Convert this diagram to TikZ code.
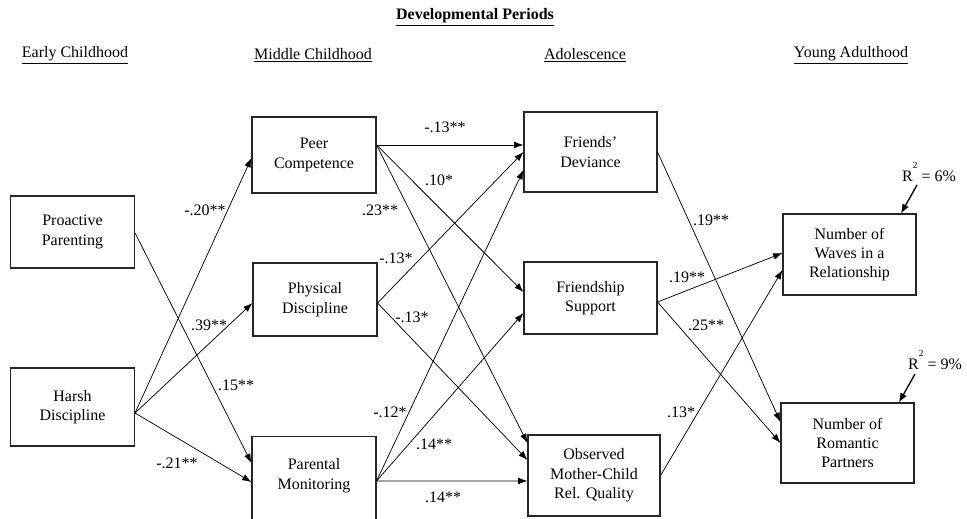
\documentclass[tikz,border=0pt]{standalone}
\usepackage{fontspec}
\setmainfont{Liberation Serif}
\usetikzlibrary{arrows.meta}

\begin{document}
\begin{tikzpicture}[x=0.75pt, y=-0.75pt,
		font=\fontsize{12}{14.5}\selectfont,
		box/.style={draw=black!85, line width=0.8pt, align=center, minimum width=93pt, inner sep=2pt},
		effect/.style={-{Latex[length=7pt,width=5pt]}, line width=0.55pt},
		rsq/.style={-{Latex[length=7pt,width=5.5pt]}, line width=1pt},
		coef/.style={inner sep=1pt}]
		\useasboundingbox (0,0) rectangle (967,518);
		
		\node (title) at (475,17) {\textbf{\underline{Developmental Periods}}};
		\node (early) at (75,55) {\underline{Early Childhood}};
		\node (middle) at (313,55) {\underline{Middle Childhood}};
		\node (adol) at (585,55) {\underline{Adolescence}};
		\node (young) at (851,55) {\underline{Young Adulthood}};
		
		\node[box, minimum height=54pt] (pro) at (72.5,232) {Proactive\\Parenting};
		\node[box, minimum height=58.5pt] (harsh) at (72.5,407) {Harsh\\Discipline};
		\node[box, minimum height=57pt] (peer) at (314,155) {Peer\\Competence};
		\node[box, minimum height=54.75pt] (phys) at (315,299.5) {Physical\\Discipline};
		\node[box, minimum height=75pt, text depth=19pt, anchor=north] (pm) at (314,436) {Parental\\Monitoring};
		\node[box, minimum width=99.75pt, minimum height=60pt] (fdev) at (590.5,152) {Friends'\\Deviance};
		\node[box, minimum width=99.75pt, minimum height=54pt] (fsup) at (590.5,298) {Friendship\\Support};
		\node[box, minimum width=99pt, minimum height=60.75pt] (obs) at (594,475.5) {Observed\\Mother-Child\\Rel. Quality};
		\node[box, minimum width=99.75pt, minimum height=60.75pt] (waves) at (849.5,254.5) {Number of\\Waves in a\\Relationship};
		\node[box, minimum width=99.75pt, minimum height=60pt] (rom) at (847.5,443) {Number of\\Romantic\\Partners};
		
		\draw[effect] ([yshift=-4.5pt]harsh.east) -- ([yshift=-2.25pt]peer.west);
		\draw[effect] ([yshift=-4.5pt]harsh.east) -- ([yshift=-2.6pt]phys.west);
		\draw[effect] ([yshift=-4.5pt]harsh.east) -- ([yshift=-34.5pt]pm.north west);
		\draw[effect] ([yshift=-0.75pt]pro.east) -- ([yshift=-20.25pt]pm.north west);
		\draw[effect] ([yshift=7.5pt]peer.east) -- ([yshift=5.25pt]fdev.west);
		\draw[effect] ([yshift=7.5pt]peer.east) -- ([yshift=4.5pt]fsup.west);
		\draw[effect] ([yshift=7.5pt]peer.east) -- ([yshift=24.4pt]obs.west);
		\draw[effect] ([yshift=-2.6pt]phys.east) -- (fdev.west);
		\draw[effect] ([yshift=-2.6pt]phys.east) -- ([yshift=11.6pt]obs.west);
		\draw[effect] ([yshift=-33.75pt]pm.north east) -- ([yshift=-13.5pt]fdev.west);
		\draw[effect] ([yshift=-33.75pt]pm.north east) -- ([yshift=-11.25pt]fsup.west);
		\draw[effect] ([yshift=-33.75pt]pm.north east) -- ([yshift=-4.1pt]obs.west);
		\draw[effect] (fdev.east) -- ([yshift=15.75pt]rom.west);
		\draw[effect] ([yshift=-3pt]fsup.east) -- ([yshift=1.1pt]waves.west);
		\draw[effect] ([yshift=-3pt]fsup.east) -- (rom.west);
		\draw[effect] (obs.east) -- ([yshift=-11.6pt]waves.west);
		
		\node[coef] (c1) at (205,210) {-.20**};
		\node[coef] (c2) at (209,325) {.39**};
		\node[coef] (c3) at (177,463) {-.21**};
		\node[coef] (c4) at (236,385) {.15**};
		\node[coef] (c5) at (445,127) {-.13**};
		\node[coef] (c6) at (439,180) {.10*};
		\node[coef] (c7) at (380,210) {.23**};
		\node[coef] (c8) at (396,258) {-.13*};
		\node[coef] (c9) at (412,317) {-.13*};
		\node[coef] (c10) at (390,412) {-.12*};
		\node[coef] (c11) at (434,444) {.14**};
		\node[coef] (c12) at (443,497) {.14**};
		\node[coef] (c13) at (711,220) {.19**};
		\node[coef] (c14) at (687,277) {.19**};
		\node[coef] (c15) at (706,325) {.25**};
		\node[coef] (c16) at (681,412) {.13*};
		
		\node (r6) at (929,172) {R\raisebox{10pt}{\scriptsize 2} = 6\%};
		\node (r9) at (935,360) {R\raisebox{10pt}{\scriptsize 2} = 9\%};
		\coordinate (r6tail) at (917,185);
		\coordinate (r9tail) at (915,374);
		\draw[rsq] (r6tail) -- ([xshift=38.6pt]waves.north);
		\draw[rsq] (r9tail) -- ([xshift=38.6pt]rom.north);
\end{tikzpicture}
\end{document}
